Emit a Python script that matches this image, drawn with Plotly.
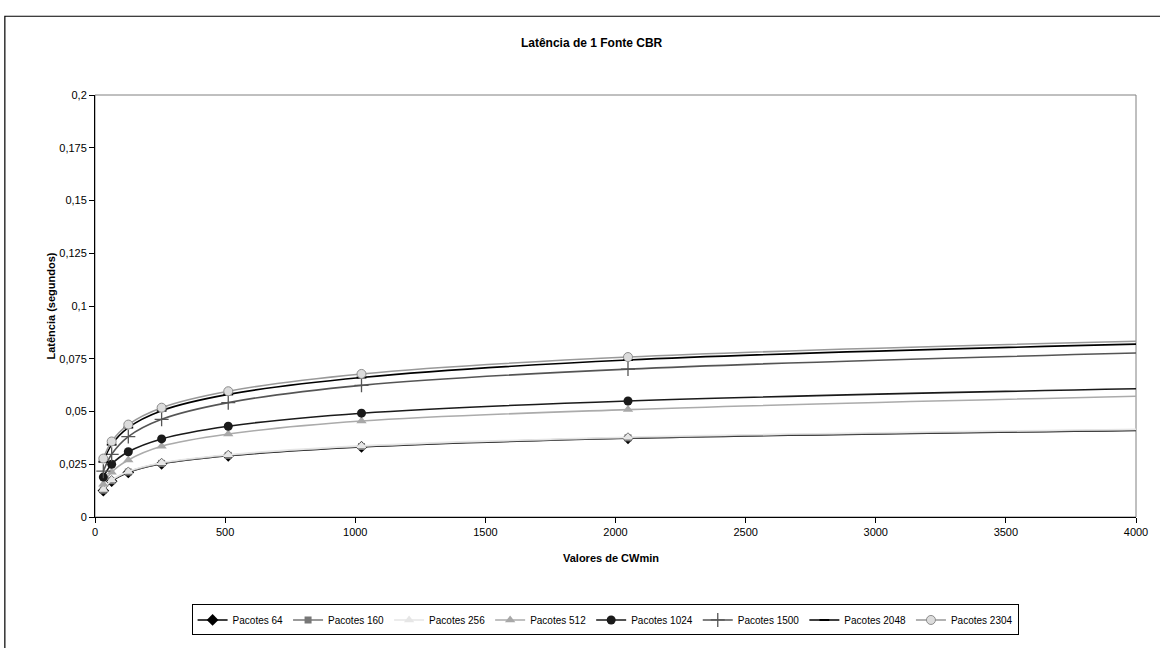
import plotly.graph_objects as go

# CWmin values tested (the last one lies past the visible axis range)
cwmin = [32, 64, 128, 256, 512, 1024, 2048, 4096]

# Mean latency (seconds) per packet size
lat_64 = [0.0125, 0.0170, 0.0211, 0.0252, 0.0290, 0.0332, 0.0373, 0.0412]
lat_160 = [0.0127, 0.0172, 0.0213, 0.0254, 0.0292, 0.0334, 0.0375, 0.0414]
lat_256 = [0.0130, 0.0175, 0.0216, 0.0257, 0.0295, 0.0337, 0.0378, 0.0417]
lat_512 = [0.0155, 0.0212, 0.0270, 0.0335, 0.0393, 0.0455, 0.0509, 0.0575]
lat_1024 = [0.0189, 0.0250, 0.0309, 0.0370, 0.0430, 0.0492, 0.0550, 0.0610]
lat_1500 = [0.0217, 0.0297, 0.0381, 0.0463, 0.0542, 0.0624, 0.0701, 0.0780]
lat_2048 = [0.0262, 0.0343, 0.0424, 0.0504, 0.0581, 0.0661, 0.0744, 0.0822]
lat_2304 = [0.0277, 0.0358, 0.0438, 0.0518, 0.0596, 0.0678, 0.0758, 0.0836]

names = ["Pacotes 64", "Pacotes 160", "Pacotes 256", "Pacotes 512",
         "Pacotes 1024", "Pacotes 1500", "Pacotes 2048", "Pacotes 2304"]

y_tickvals = [0, 0.025, 0.05, 0.075, 0.1, 0.125, 0.15, 0.175, 0.2]
y_ticktext = ["0", "0,025", "0,05", "0,075", "0,1", "0,125", "0,15", "0,175", "0,2"]
x_tickvals = [0, 500, 1000, 1500, 2000, 2500, 3000, 3500, 4000]

FONT = "Liberation Sans, Arial, sans-serif"

styles = [
    dict(line="#000000", marker=dict(symbol="diamond", size=9, color="#000000")),
    dict(line="#777777", marker=dict(symbol="square", size=7, color="#777777")),
    dict(line="#e6e6e6", marker=dict(symbol="triangle-up", size=9, color="#e6e6e6")),
    dict(line="#ababab", marker=dict(symbol="triangle-up", size=9, color="#a8a8a8")),
    dict(line="#1a1a1a", marker=dict(symbol="circle", size=9, color="#1a1a1a")),
    dict(line="#555555", marker=dict(symbol="cross-thin", size=10, color="#555555",
                                     line=dict(color="#555555", width=1.3))),
    dict(line="#000000", marker=dict(symbol="line-ew", size=7, color="#000000",
                                     line=dict(color="#000000", width=2))),
    dict(line="#999999", marker=dict(symbol="circle", size=9, color="#dcdcdc",
                                     line=dict(color="#8c8c8c", width=1))),
]

series = [lat_64, lat_160, lat_256, lat_512, lat_1024, lat_1500, lat_2048, lat_2304]

fig = go.Figure()
for name, ys, st in zip(names, series, styles):
    fig.add_trace(go.Scatter(
        x=cwmin, y=ys, name=name, mode="lines+markers",
        line=dict(color=st["line"], width=1.6, shape="spline", smoothing=1.0),
        marker=st["marker"],
    ))

# plot-area frame (grey) and outer chart border (black)
fig.add_shape(type="rect", xref="paper", yref="paper", x0=0, x1=1, y0=0, y1=1,
              line=dict(color="#808080", width=1), layer="below")
fig.add_shape(type="rect", xref="paper", yref="paper",
              x0=-0.0866, x1=1.06, y0=-0.4, y1=1.1866,
              line=dict(color="#000000", width=1.2))

fig.add_annotation(text="<b>Latência (segundos)</b>", xref="paper", yref="paper",
                   x=-0.0504, y=0.5, textangle=-90, showarrow=False,
                   font=dict(family=FONT, size=11, color="#000"))
fig.add_annotation(text="<b>Valores de CWmin</b>", xref="paper", yref="paper",
                   x=0.4955, y=-0.115, showarrow=False,
                   font=dict(family=FONT, size=11, color="#000"))

fig.update_layout(
    width=1160, height=648,
    margin=dict(l=95, r=14, t=95, b=119),
    paper_bgcolor="white", plot_bgcolor="white",
    font=dict(family=FONT, size=11, color="#000"),
    title=dict(text="<b>Latência de 1 Fonte CBR</b>", x=0.51, y=0.9336,
               xanchor="center", yanchor="middle",
               font=dict(family=FONT, size=12, color="#000")),
    xaxis=dict(range=[0, 4000], tickvals=x_tickvals, showgrid=False, zeroline=False,
               showline=True, linecolor="#000", linewidth=1, ticks="outside",
               ticklen=5, tickcolor="#000", tickfont=dict(size=11)),
    yaxis=dict(range=[0, 0.2], tickvals=y_tickvals, ticktext=y_ticktext,
               showgrid=False, zeroline=False, showline=True, linecolor="#000",
               linewidth=1, ticks="outside", ticklen=5, tickcolor="#000",
               tickfont=dict(size=11)),
    legend=dict(orientation="h", x=0.49, y=-0.244, xanchor="center", yanchor="middle",
                bordercolor="#000", borderwidth=1, font=dict(size=10),
                itemwidth=30, tracegroupgap=0),
    showlegend=True,
)

fig.write_html("out.html")
